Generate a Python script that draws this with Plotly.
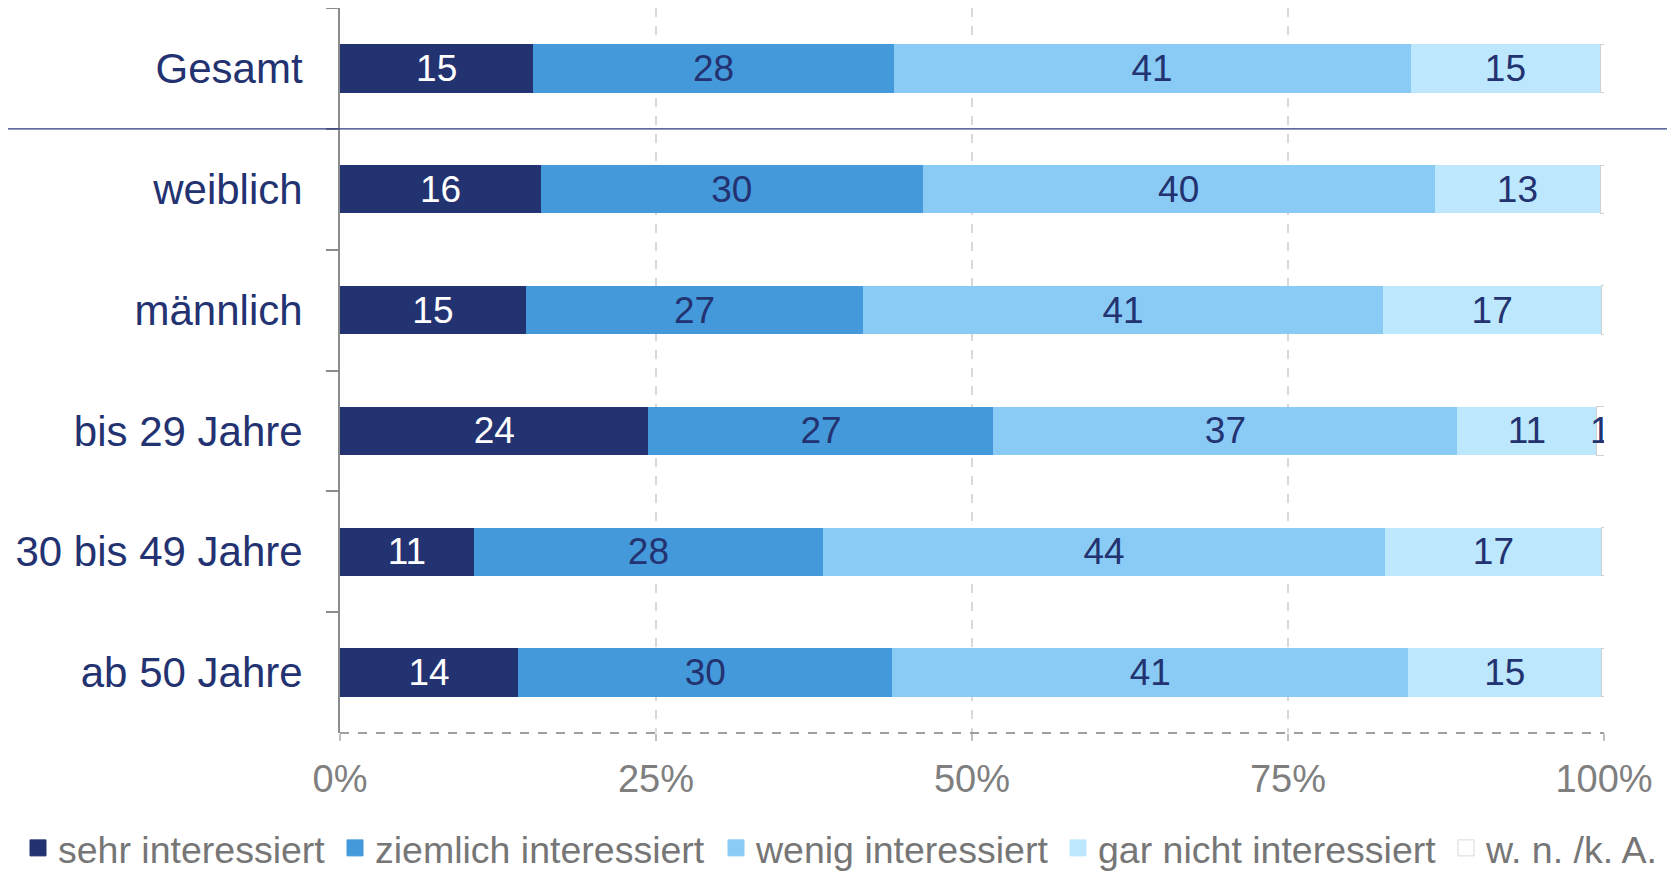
import plotly.graph_objects as go

categories = ["Gesamt", "weiblich", "männlich", "bis 29 Jahre", "30 bis 49 Jahre", "ab 50 Jahre"]
series_names = ["sehr interessiert", "ziemlich interessiert", "wenig interessiert",
                "gar nicht interessiert", "w. n. /k. A."]
sehr = [15.3, 15.9, 14.7, 24.4, 10.6, 14.1]
ziemlich = [28.5, 30.2, 26.7, 27.3, 27.6, 29.6]
wenig = [40.9, 40.5, 41.1, 36.7, 44.5, 40.8]
gar_nicht = [15.0, 13.1, 17.3, 11.0, 17.1, 15.3]
wn_ka = [0.3, 0.3, 0.2, 0.6, 0.2, 0.2]
x_ticks = [0, 25, 50, 75, 100]
x_ticklabels = ["0%", "25%", "50%", "75%", "100%"]

series = [sehr, ziemlich, wenig, gar_nicht, wn_ka]
colors = ["#233270", "#4499DA", "#8ACBF5", "#BDE7FC", "#FFFFFF"]
text_colors = ["#FFFFFF", "#233270", "#233270", "#233270", "#233270"]
FONT = "Liberation Sans, Arial, sans-serif"

# page has an 8px body margin; figure is sized to fit the viewport
W, H = 1667, 863
ML, MR, MT, MB = 332, 71, 0, 138
PW = W - ML - MR
PH = H - MT - MB

# left edge (figure px) of each legend entry box
legend_left_px = [10, 327, 708, 1050, 1438]
legend_center_px = 840

fig = go.Figure()
for i, (name, vals) in enumerate(zip(series_names, series)):
    if i == 4:
        txt = [f"{v:.0f}" if v >= 0.5 else "" for v in vals]
        line = dict(color="#D0D0D0", width=1)
    else:
        txt = [f"{v:.0f}" for v in vals]
        line = dict(width=0)
    fig.add_trace(go.Bar(
        y=categories, x=vals, name=name, orientation="h",
        marker=dict(color=colors[i], line=line),
        text=txt, textposition="inside", insidetextanchor="middle",
        textangle=0, constraintext="none",
        textfont=dict(family=FONT, size=37, color=text_colors[i]),
        cliponaxis=True, hoverinfo="skip", showlegend=False,
    ))

# legend entries with larger square symbols, one legend box per entry
legend_layout = {}
for i, name in enumerate(series_names):
    lg = "legend" if i == 0 else f"legend{i + 1}"
    fig.add_trace(go.Scatter(
        x=[None], y=[None], mode="markers", name=name, legend=lg,
        marker=dict(symbol="square", size=16, color=colors[i],
                    line=dict(color="#D9D9D9" if i == 4 else colors[i], width=1)),
        hoverinfo="skip",
    ))
    legend_layout[lg] = dict(
        orientation="h", xref="paper", yref="paper",
        x=(legend_left_px[i] - ML) / PW, y=-(legend_center_px - (MT + PH)) / PH,
        xanchor="left", yanchor="middle",
        font=dict(family=FONT, size=37.5, color="#767676"),
        itemwidth=30, borderwidth=0, bgcolor="rgba(0,0,0,0)",
    )

fig.update_layout(
    width=W, height=H,
    barmode="stack", bargap=0.6,
    plot_bgcolor="white", paper_bgcolor="white",
    margin=dict(l=ML, r=MR, t=MT, b=MB, autoexpand=False),
    font=dict(family=FONT),
    xaxis=dict(
        range=[0, 100], tickvals=x_ticks, ticktext=x_ticklabels,
        showgrid=True, gridcolor="#D9D9D9", griddash="dash", gridwidth=1.5,
        zeroline=False, showline=False,
        ticks="outside", ticklen=7, tickcolor="#BFBFBF", tickwidth=1.5,
        tickfont=dict(family=FONT, size=38, color="#7F7F7F"),
        ticklabelstandoff=5,
    ),
    yaxis=dict(
        categoryorder="array", categoryarray=categories, autorange="reversed",
        showgrid=False, zeroline=False,
        showline=True, linecolor="#8C8C8C", linewidth=2,
        ticks="outside", tickson="boundaries", ticklen=12, tickcolor="#8C8C8C", tickwidth=2,
        tickfont=dict(family=FONT, size=42, color="#233270"),
        ticklabelstandoff=27,
    ),
    showlegend=True,
    **legend_layout,
)

# dashed bottom axis line
fig.add_shape(type="line", xref="paper", yref="paper", x0=0, x1=1, y0=0, y1=0,
              line=dict(color="#808080", width=1.5, dash="dash"))
# separator line between Gesamt and the subgroups
fig.add_shape(type="line", xref="paper", yref="y", x0=-ML / PW, x1=(W - ML) / PW,
              y0=0.5, y1=0.5, line=dict(color="#2E3B7A", width=1.2))

fig.write_html("out.html")
